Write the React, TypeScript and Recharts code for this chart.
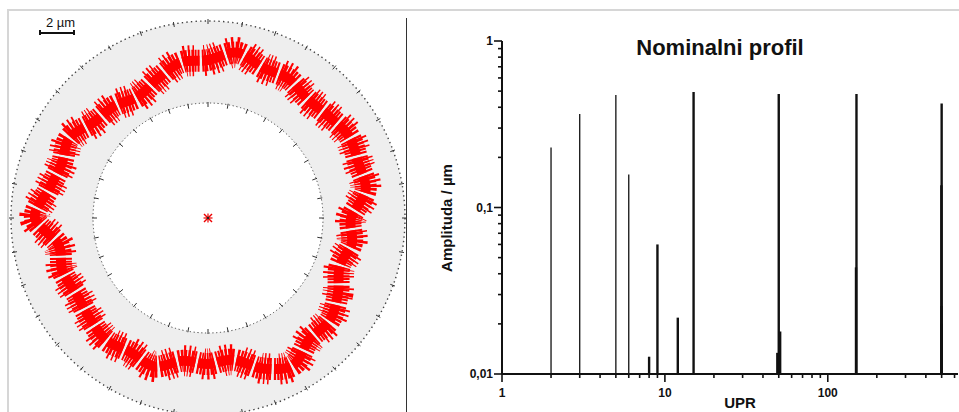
import React from "react";
import {
  ComposedChart,
  XAxis,
  YAxis,
  ReferenceLine,
  Scatter,
  RadarChart,
  PolarAngleAxis,
  PolarRadiusAxis,
  PolarGrid,
  Radar,
} from "recharts";

const FONT = '"Liberation Sans", Arial, Helvetica, sans-serif';

// roundness profile: radius on the plot (µm) every 10°, clockwise from top
const profileAngle = [
  0, 10, 20, 30, 40, 50, 60, 70, 80, 90, 100, 110, 120, 130, 140, 150, 160, 170,
  180, 190, 200, 210, 220, 230, 240, 250, 260, 270, 280, 290, 300, 310, 320, 330, 340, 350,
];
const profileRadius = [
  9.02, 9.59, 9.14, 9.19, 8.85, 9.02, 9.31, 9.14, 9.14, 8.17, 8.34, 8.0, 8.57, 9.08, 9.02, 9.71,
  9.14, 8.22, 8.34, 8.28, 9.02, 8.85, 9.08, 8.85, 8.68, 8.85, 8.68, 9.88, 9.25, 8.91, 9.14, 8.51,
  8.34, 8.0, 8.45, 9.02,
];

// spectrum: harmonic (UPR) and amplitude in µm
const harmonic = [2, 3, 5, 6, 8, 9, 12, 15, 49, 50, 51, 149, 150, 498, 499, 500, 501];
const amplitude = [
  0.229, 0.364, 0.474, 0.158, 0.0127, 0.06, 0.0218, 0.494, 0.0134, 0.481, 0.018, 0.0437, 0.481,
  0.136, 0.0256, 0.422, 0.02,
];

const xTicks = [1, 2, 3, 4, 5, 6, 7, 8, 9, 10, 20, 30, 40, 50, 60, 70, 80, 90, 100, 200, 300, 400, 500, 600];
const xMajor = [1, 10, 100];
const yTicks = [
  0.01, 0.02, 0.03, 0.04, 0.05, 0.06, 0.07, 0.08, 0.09, 0.1, 0.2, 0.3, 0.4, 0.5, 0.6, 0.7, 0.8, 0.9, 1,
];
const yMajor = [0.01, 0.1, 1];
const yLabel: Record<string, string> = { "0.01": "0,01", "0.1": "0,1", "1": "1" };

const profileData = profileAngle.map((a, i) => ({ angle: String(a), r: profileRadius[i] }));
const spikes = harmonic.map((h, i) => ({ upr: h, amp: amplitude[i] }));

const CX = 208;
const CY = 218;
const R_OUT = 197;
const R_IN = 115;

const isMajor = (v: number, list: number[]) => list.some((m) => Math.abs(v - m) < m * 1e-6);

function XTick(props: any) {
  const { x, y, payload } = props;
  const major = isMajor(payload.value, xMajor);
  return (
    <g>
      <line x1={x} y1={y} x2={x} y2={y + (major ? 8 : 4)} stroke="#111" strokeWidth={1.6} />
      {major && (
        <text x={x} y={y + 23} textAnchor="middle" fontSize={12} fontWeight="bold" fill="#111" fontFamily={FONT}>
          {payload.value}
        </text>
      )}
    </g>
  );
}

function YTick(props: any) {
  const { x, y, payload } = props;
  const major = isMajor(payload.value, yMajor);
  return (
    <g>
      <line x1={x} y1={y} x2={x - (major ? 8 : 4)} y2={y} stroke="#111" strokeWidth={1.6} />
      {major && (
        <text x={x - 9} y={y + 4} textAnchor="end" fontSize={12} fontWeight="bold" fill="#111" fontFamily={FONT}>
          {yLabel[String(payload.value)]}
        </text>
      )}
    </g>
  );
}

function RingTick(props: any) {
  const { x, y } = props;
  const dx = x - CX;
  const dy = y - CY;
  const d = Math.sqrt(dx * dx + dy * dy) || 1;
  const ux = dx / d;
  const uy = dy / d;
  return (
    <g>
      <line
        x1={CX + ux * (R_OUT - 3)}
        y1={CY + uy * (R_OUT - 3)}
        x2={CX + ux * (R_OUT + 2)}
        y2={CY + uy * (R_OUT + 2)}
        stroke="#333"
        strokeWidth={1}
      />
      <line
        x1={CX + ux * (R_IN - 4)}
        y1={CY + uy * (R_IN - 4)}
        x2={CX + ux * (R_IN + 1)}
        y2={CY + uy * (R_IN + 1)}
        stroke="#333"
        strokeWidth={1}
      />
    </g>
  );
}

// closed smooth curve through the radar points, drawn as a jagged red band
function ProfileBand(props: any) {
  const pts: { x: number; y: number }[] = props.points || [];
  if (pts.length < 3) return <g />;
  const n = pts.length;
  let d = `M${pts[0].x},${pts[0].y}`;
  for (let i = 0; i < n; i++) {
    const p0 = pts[(i - 1 + n) % n];
    const p1 = pts[i];
    const p2 = pts[(i + 1) % n];
    const p3 = pts[(i + 2) % n];
    const c1x = p1.x + (p2.x - p0.x) / 6;
    const c1y = p1.y + (p2.y - p0.y) / 6;
    const c2x = p2.x - (p3.x - p1.x) / 6;
    const c2y = p2.y - (p3.y - p1.y) / 6;
    d += ` C${c1x},${c1y} ${c2x},${c2y} ${p2.x},${p2.y}`;
  }
  d += " Z";
  return (
    <g fill="none" stroke="#ff0000">
      <path d={d} strokeWidth={22} strokeDasharray="2 1 2 1 2 1 2 1 2 1 2 2.5" />
      <path d={d} strokeWidth={31} strokeDasharray="1.5 2.5 1.5 2.5 1.5 10" strokeDashoffset={-2} />
      <path d={d} strokeWidth={10} strokeDasharray="17 2.5" />
    </g>
  );
}

export default function App() {
  return (
    <div
      style={{
        position: "absolute",
        left: 0,
        top: 0,
        width: 959,
        height: 412,
        overflow: "hidden",
        background: "#fff",
        fontFamily: FONT,
      }}
    >
      {/* frame */}
      <div style={{ position: "absolute", left: 7, top: 9, width: 960, height: 2, background: "#d6d6d6" }} />
      <div style={{ position: "absolute", left: 7, top: 9, width: 2, height: 410, background: "#d6d6d6" }} />
      <div style={{ position: "absolute", left: 406, top: 18, width: 1, height: 400, background: "#333" }} />

      {/* annulus background */}
      <div
        style={{
          position: "absolute",
          left: CX - R_OUT,
          top: CY - R_OUT,
          width: R_OUT * 2,
          height: R_OUT * 2,
          borderRadius: "50%",
          background: "#eeeeee",
        }}
      />
      <div
        style={{
          position: "absolute",
          left: CX - R_IN,
          top: CY - R_IN,
          width: R_IN * 2,
          height: R_IN * 2,
          borderRadius: "50%",
          background: "#ffffff",
        }}
      />

      <div style={{ position: "absolute", left: 0, top: 0 }}>
        <RadarChart
          width={406}
          height={412}
          cx={CX}
          cy={CY}
          outerRadius={R_OUT}
          data={profileData}
          margin={{ top: 0, right: 0, bottom: 0, left: 0 }}
        >
          <PolarGrid gridType="circle" polarRadius={[R_IN]} radialLines={false} stroke="#444" strokeDasharray="1.2 2.6" />
          <PolarAngleAxis
            dataKey="angle"
            axisLineType="circle"
            axisLine={{ stroke: "#444", strokeDasharray: "1.4 3.2", strokeWidth: 1.4 }}
            tickLine={false}
            tick={(p: any) => <RingTick {...p} />}
          />
          <PolarRadiusAxis domain={[0, 11.25]} tick={false} axisLine={false} />
          <Radar
            dataKey="r"
            stroke="#ff0000"
            fill="none"
            shape={(p: any) => <ProfileBand {...p} />}
            dot={false}
            isAnimationActive={false}
          />
        </RadarChart>
      </div>

      {/* centre marker */}
      <svg style={{ position: "absolute", left: CX - 5, top: CY - 5 }} width={10} height={10}>
        <line x1={1} y1={1} x2={9} y2={9} stroke="#e00" strokeWidth={1.5} />
        <line x1={9} y1={1} x2={1} y2={9} stroke="#e00" strokeWidth={1.5} />
        <line x1={5} y1={0.5} x2={5} y2={9.5} stroke="#e00" strokeWidth={1.2} />
        <line x1={0.5} y1={5} x2={9.5} y2={5} stroke="#e00" strokeWidth={1.2} />
        <circle cx={5} cy={5} r={1.3} fill="#222" />
      </svg>

      {/* scale bar */}
      <div style={{ position: "absolute", left: 46, top: 15, fontSize: 13, color: "#111" }}>2 µm</div>
      <div style={{ position: "absolute", left: 39, top: 32, width: 35, height: 1.5, background: "#111" }} />
      <div style={{ position: "absolute", left: 39, top: 30, width: 1.5, height: 5, background: "#111" }} />
      <div style={{ position: "absolute", left: 73, top: 30, width: 1.5, height: 5, background: "#111" }} />

      {/* spectrum */}
      <div style={{ position: "absolute", left: 410, top: 0 }}>
        <ComposedChart width={549} height={412} data={spikes} margin={{ top: 41, right: 1, bottom: 0, left: 0 }}>
          <XAxis
            type="number"
            dataKey="upr"
            scale="log"
            domain={[1, 630]}
            allowDataOverflow
            ticks={xTicks}
            interval={0}
            height={38}
            axisLine={{ stroke: "#111", strokeWidth: 2 }}
            tickLine={false}
            tickSize={0}
            tickMargin={0}
            tick={<XTick />}
          />
          <YAxis
            type="number"
            dataKey="amp"
            scale="log"
            domain={[0.01, 1]}
            allowDataOverflow
            ticks={yTicks}
            interval={0}
            width={92}
            axisLine={{ stroke: "#111", strokeWidth: 2 }}
            tickLine={false}
            tickSize={0}
            tickMargin={0}
            tick={<YTick />}
          />
          {spikes.map((s, i) => (
            <ReferenceLine
              key={i}
              segment={[
                { x: s.upr, y: 0.01 },
                { x: s.upr, y: s.amp },
              ]}
              stroke="#111"
              strokeWidth={s.upr < 7 ? 1.3 : 2.4}
              ifOverflow="visible"
            />
          ))}
          <Scatter dataKey="amp" shape={() => <g />} isAnimationActive={false} />
        </ComposedChart>
      </div>

      <div
        style={{
          position: "absolute",
          left: 610,
          top: 35,
          width: 220,
          textAlign: "center",
          fontSize: 22,
          fontWeight: "bold",
          color: "#111",
        }}
      >
        Nominalni profil
      </div>
      <div
        style={{
          position: "absolute",
          left: 447 - 80,
          top: 218 - 10,
          width: 160,
          height: 20,
          lineHeight: "20px",
          textAlign: "center",
          transform: "rotate(-90deg)",
          fontSize: 15,
          fontWeight: "bold",
          color: "#111",
        }}
      >
        Amplituda / µm
      </div>
      <div
        style={{
          position: "absolute",
          left: 700,
          top: 394,
          width: 80,
          height: 18,
          lineHeight: "18px",
          textAlign: "center",
          fontSize: 15,
          fontWeight: "bold",
          color: "#111",
        }}
      >
        UPR
      </div>
    </div>
  );
}
